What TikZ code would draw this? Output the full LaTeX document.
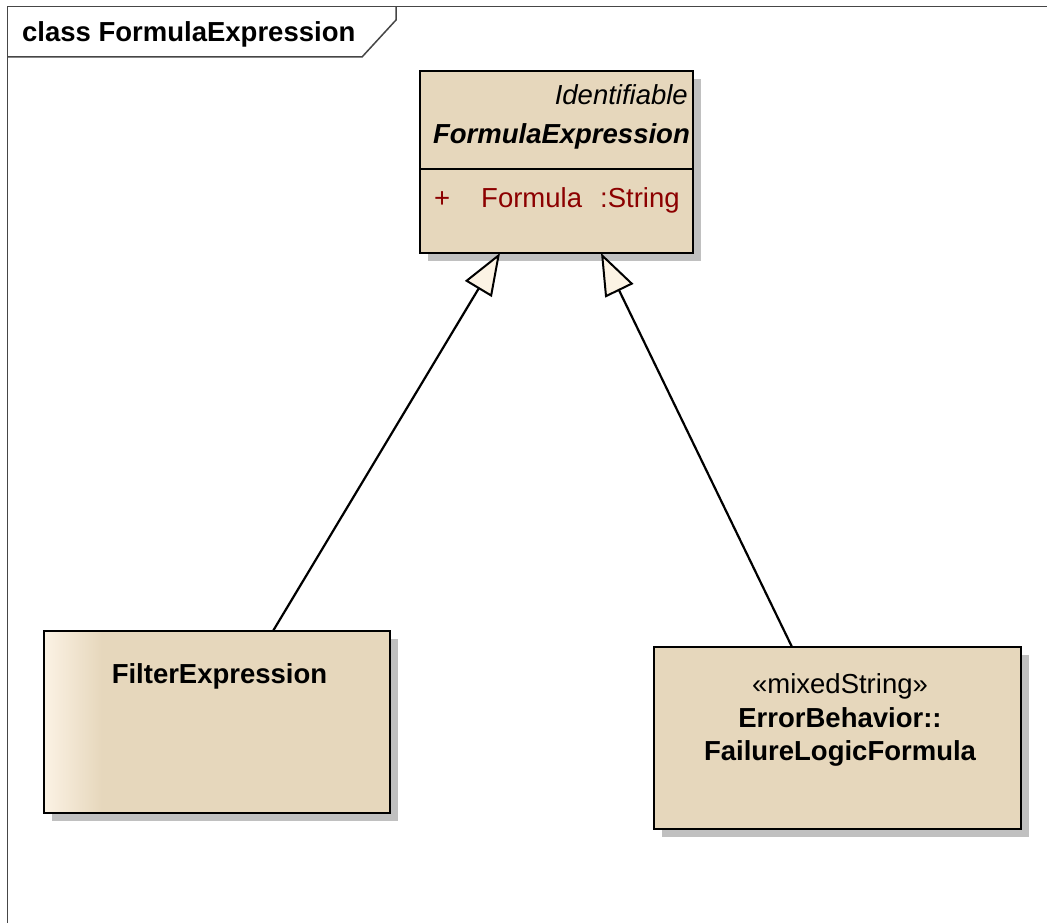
\documentclass[tikz,border=0pt]{standalone}
\usepackage{fontspec}
\setmainfont{Liberation Sans}
\usetikzlibrary{arrows.meta,shadows}
\definecolor{boxfill}{RGB}{230,215,188}
\definecolor{boxlight}{RGB}{251,242,228}
\definecolor{arrowfill}{RGB}{252,243,228}
\definecolor{shadowgray}{RGB}{192,192,192}
\definecolor{attrred}{RGB}{140,0,0}
\definecolor{framegray}{RGB}{70,70,70}
\begin{document}
\begin{tikzpicture}[x=1pt,y=-1pt,
  classbox/.style={draw=black, line width=2.4pt, fill=boxfill, anchor=north west,
    inner sep=0pt, outer sep=0pt, minimum height=182pt,
    drop shadow={shadow xshift=8pt, shadow yshift=-8pt, fill=shadowgray, opacity=1, draw=none}},
  lbl/.style={inner sep=0pt, font=\fontsize{27.5}{32}\selectfont},
  framestyle/.style={draw=framegray, line width=1.5pt},
  gen/.style={draw=black, line width=2.2pt, -{Triangle[length=42pt, width=31pt, fill=arrowfill, line width=2pt]}}
]
\useasboundingbox (0,0) rectangle (1047,923);
\fill[white] (0,0) rectangle (1047,923);

% frame
\draw[framestyle] (7.5,923) -- (7.5,6.5) -- (1047,6.5);
\draw[framestyle] (396,6.5) -- (396,20) -- (362,57) -- (7.5,57);
\node[lbl, anchor=base west, font=\fontsize{27.5}{32}\selectfont\bfseries] (title) at (22,42) {class FormulaExpression};

% classes
\node[classbox, minimum width=273pt] (fx) at (420,71) {};
\draw[line width=2.2pt] ([yshift=-98pt]fx.north west) -- ([yshift=-98pt]fx.north east);
\node[lbl, anchor=base east, font=\fontsize{27.5}{32}\selectfont\itshape] (fxst) at (688,105) {Identifiable};
\node[lbl, anchor=base east, font=\fontsize{27.5}{32}\selectfont\bfseries\itshape] (fxname) at (690,143) {FormulaExpression};
\node[lbl, anchor=base west, text=attrred] (plus) at (434,207) {+};
\node[lbl, anchor=base west, text=attrred] (attr) at (481,207) {Formula};
\node[lbl, anchor=base west, text=attrred] (atype) at (600,207) {:String};

\node[classbox, minimum width=346pt] (fe) at (44,631) {};
\shade[left color=boxlight, right color=boxfill] (45,632) rectangle (102,812);
\draw[line width=2.4pt] (fe.north west) rectangle (fe.south east);
\node[lbl, anchor=base, font=\fontsize{27.5}{32}\selectfont\bfseries] (fename) at (219.5,683) {FilterExpression};

\node[classbox, minimum width=367pt] (fl) at (654,647) {};
\node[lbl, anchor=base] (flst) at (840,693) {«mixedString»};
\node[lbl, anchor=base, font=\fontsize{27.5}{32}\selectfont\bfseries] (flns) at (840,727) {ErrorBehavior::};
\node[lbl, anchor=base, font=\fontsize{27.5}{32}\selectfont\bfseries] (flname) at (840,760) {FailureLogicFormula};

% generalizations
\draw[gen] ([xshift=229pt]fe.north west) -- ([xshift=80pt]fx.south west);
\draw[gen] ([xshift=138pt]fl.north west) -- ([xshift=181pt]fx.south west);
\end{tikzpicture}
\end{document}
